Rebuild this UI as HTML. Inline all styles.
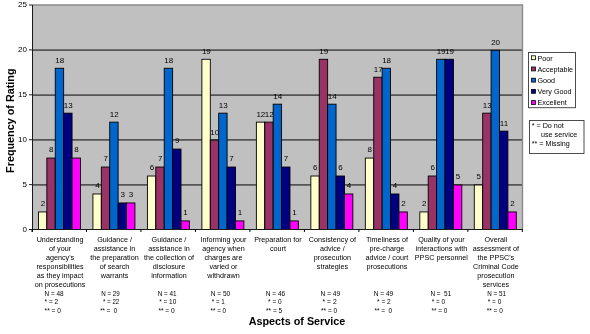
<!DOCTYPE html>
<html><head><meta charset="utf-8"><style>
html,body{margin:0;padding:0;background:#fff;width:590px;height:334px;overflow:hidden;position:relative}
text{font-family:"Liberation Sans",sans-serif;fill:#000}
.d{font-size:8px}
.c{font-size:7.2px}
.t{font-size:10.8px;font-weight:bold}
</style></head><body>
<svg width="590" height="334" viewBox="0 0 590 334" style="position:absolute;left:0;top:0;filter:blur(0.35px)">
<rect x="32" y="5.0" width="490.5" height="224.5" fill="#C0C0C0"/>
<line x1="32" y1="184.85" x2="522.5" y2="184.85" stroke="#555" stroke-width="1.7"/>
<line x1="32" y1="139.95" x2="522.5" y2="139.95" stroke="#555" stroke-width="1.7"/>
<line x1="32" y1="95.05" x2="522.5" y2="95.05" stroke="#555" stroke-width="1.7"/>
<line x1="32" y1="50.15" x2="522.5" y2="50.15" stroke="#555" stroke-width="1.7"/>
<polyline points="32,5.0 522.5,5.0 522.5,229.5" fill="none" stroke="#8a8a8a" stroke-width="1.4"/>
<rect x="38.45" y="211.94" width="8.40" height="17.56" fill="#FFFFCC" stroke="#000" stroke-width="0.9"/>
<text x="42.95" y="206.34" text-anchor="middle" class="d">2</text>
<rect x="46.85" y="158.06" width="8.40" height="71.44" fill="#993366" stroke="#000" stroke-width="0.9"/>
<text x="51.35" y="152.46" text-anchor="middle" class="d">8</text>
<rect x="55.25" y="68.26" width="8.40" height="161.24" fill="#0066CC" stroke="#000" stroke-width="0.9"/>
<text x="59.75" y="62.66" text-anchor="middle" class="d">18</text>
<rect x="63.65" y="113.16" width="8.40" height="116.34" fill="#000080" stroke="#000" stroke-width="0.9"/>
<text x="68.15" y="107.56" text-anchor="middle" class="d">13</text>
<rect x="72.05" y="158.06" width="8.40" height="71.44" fill="#FF00FF" stroke="#000" stroke-width="0.9"/>
<text x="76.55" y="152.46" text-anchor="middle" class="d">8</text>
<rect x="92.93" y="193.98" width="8.40" height="35.52" fill="#FFFFCC" stroke="#000" stroke-width="0.9"/>
<text x="97.43" y="188.38" text-anchor="middle" class="d">4</text>
<rect x="101.33" y="167.04" width="8.40" height="62.46" fill="#993366" stroke="#000" stroke-width="0.9"/>
<text x="105.83" y="161.44" text-anchor="middle" class="d">7</text>
<rect x="109.73" y="122.14" width="8.40" height="107.36" fill="#0066CC" stroke="#000" stroke-width="0.9"/>
<text x="114.23" y="116.54" text-anchor="middle" class="d">12</text>
<rect x="118.13" y="202.96" width="8.40" height="26.54" fill="#000080" stroke="#000" stroke-width="0.9"/>
<text x="122.63" y="197.36" text-anchor="middle" class="d">3</text>
<rect x="126.53" y="202.96" width="8.40" height="26.54" fill="#FF00FF" stroke="#000" stroke-width="0.9"/>
<text x="131.03" y="197.36" text-anchor="middle" class="d">3</text>
<rect x="147.41" y="176.02" width="8.40" height="53.48" fill="#FFFFCC" stroke="#000" stroke-width="0.9"/>
<text x="151.91" y="170.42" text-anchor="middle" class="d">6</text>
<rect x="155.81" y="167.04" width="8.40" height="62.46" fill="#993366" stroke="#000" stroke-width="0.9"/>
<text x="160.31" y="161.44" text-anchor="middle" class="d">7</text>
<rect x="164.21" y="68.26" width="8.40" height="161.24" fill="#0066CC" stroke="#000" stroke-width="0.9"/>
<text x="168.71" y="62.66" text-anchor="middle" class="d">18</text>
<rect x="172.61" y="149.08" width="8.40" height="80.42" fill="#000080" stroke="#000" stroke-width="0.9"/>
<text x="177.11" y="143.48" text-anchor="middle" class="d">9</text>
<rect x="181.01" y="220.92" width="8.40" height="8.58" fill="#FF00FF" stroke="#000" stroke-width="0.9"/>
<text x="185.51" y="215.32" text-anchor="middle" class="d">1</text>
<rect x="201.89" y="59.28" width="8.40" height="170.22" fill="#FFFFCC" stroke="#000" stroke-width="0.9"/>
<text x="206.39" y="53.68" text-anchor="middle" class="d">19</text>
<rect x="210.29" y="140.10" width="8.40" height="89.40" fill="#993366" stroke="#000" stroke-width="0.9"/>
<text x="214.79" y="134.50" text-anchor="middle" class="d">10</text>
<rect x="218.69" y="113.16" width="8.40" height="116.34" fill="#0066CC" stroke="#000" stroke-width="0.9"/>
<text x="223.19" y="107.56" text-anchor="middle" class="d">13</text>
<rect x="227.09" y="167.04" width="8.40" height="62.46" fill="#000080" stroke="#000" stroke-width="0.9"/>
<text x="231.59" y="161.44" text-anchor="middle" class="d">7</text>
<rect x="235.49" y="220.92" width="8.40" height="8.58" fill="#FF00FF" stroke="#000" stroke-width="0.9"/>
<text x="239.99" y="215.32" text-anchor="middle" class="d">1</text>
<rect x="256.37" y="122.14" width="8.40" height="107.36" fill="#FFFFCC" stroke="#000" stroke-width="0.9"/>
<text x="260.87" y="116.54" text-anchor="middle" class="d">12</text>
<rect x="264.77" y="122.14" width="8.40" height="107.36" fill="#993366" stroke="#000" stroke-width="0.9"/>
<text x="269.27" y="116.54" text-anchor="middle" class="d">12</text>
<rect x="273.17" y="104.18" width="8.40" height="125.32" fill="#0066CC" stroke="#000" stroke-width="0.9"/>
<text x="277.67" y="98.58" text-anchor="middle" class="d">14</text>
<rect x="281.57" y="167.04" width="8.40" height="62.46" fill="#000080" stroke="#000" stroke-width="0.9"/>
<text x="286.07" y="161.44" text-anchor="middle" class="d">7</text>
<rect x="289.97" y="220.92" width="8.40" height="8.58" fill="#FF00FF" stroke="#000" stroke-width="0.9"/>
<text x="294.47" y="215.32" text-anchor="middle" class="d">1</text>
<rect x="310.85" y="176.02" width="8.40" height="53.48" fill="#FFFFCC" stroke="#000" stroke-width="0.9"/>
<text x="315.35" y="170.42" text-anchor="middle" class="d">6</text>
<rect x="319.25" y="59.28" width="8.40" height="170.22" fill="#993366" stroke="#000" stroke-width="0.9"/>
<text x="323.75" y="53.68" text-anchor="middle" class="d">19</text>
<rect x="327.65" y="104.18" width="8.40" height="125.32" fill="#0066CC" stroke="#000" stroke-width="0.9"/>
<text x="332.15" y="98.58" text-anchor="middle" class="d">14</text>
<rect x="336.05" y="176.02" width="8.40" height="53.48" fill="#000080" stroke="#000" stroke-width="0.9"/>
<text x="340.55" y="170.42" text-anchor="middle" class="d">6</text>
<rect x="344.45" y="193.98" width="8.40" height="35.52" fill="#FF00FF" stroke="#000" stroke-width="0.9"/>
<text x="348.95" y="188.38" text-anchor="middle" class="d">4</text>
<rect x="365.33" y="158.06" width="8.40" height="71.44" fill="#FFFFCC" stroke="#000" stroke-width="0.9"/>
<text x="369.83" y="152.46" text-anchor="middle" class="d">8</text>
<rect x="373.73" y="77.24" width="8.40" height="152.26" fill="#993366" stroke="#000" stroke-width="0.9"/>
<text x="378.23" y="71.64" text-anchor="middle" class="d">17</text>
<rect x="382.13" y="68.26" width="8.40" height="161.24" fill="#0066CC" stroke="#000" stroke-width="0.9"/>
<text x="386.63" y="62.66" text-anchor="middle" class="d">18</text>
<rect x="390.53" y="193.98" width="8.40" height="35.52" fill="#000080" stroke="#000" stroke-width="0.9"/>
<text x="395.03" y="188.38" text-anchor="middle" class="d">4</text>
<rect x="398.93" y="211.94" width="8.40" height="17.56" fill="#FF00FF" stroke="#000" stroke-width="0.9"/>
<text x="403.43" y="206.34" text-anchor="middle" class="d">2</text>
<rect x="419.81" y="211.94" width="8.40" height="17.56" fill="#FFFFCC" stroke="#000" stroke-width="0.9"/>
<text x="424.31" y="206.34" text-anchor="middle" class="d">2</text>
<rect x="428.21" y="176.02" width="8.40" height="53.48" fill="#993366" stroke="#000" stroke-width="0.9"/>
<text x="432.71" y="170.42" text-anchor="middle" class="d">6</text>
<rect x="436.61" y="59.28" width="8.40" height="170.22" fill="#0066CC" stroke="#000" stroke-width="0.9"/>
<text x="441.11" y="53.68" text-anchor="middle" class="d">19</text>
<rect x="445.01" y="59.28" width="8.40" height="170.22" fill="#000080" stroke="#000" stroke-width="0.9"/>
<text x="449.51" y="53.68" text-anchor="middle" class="d">19</text>
<rect x="453.41" y="185.00" width="8.40" height="44.50" fill="#FF00FF" stroke="#000" stroke-width="0.9"/>
<text x="457.91" y="179.40" text-anchor="middle" class="d">5</text>
<rect x="474.29" y="185.00" width="8.40" height="44.50" fill="#FFFFCC" stroke="#000" stroke-width="0.9"/>
<text x="478.79" y="179.40" text-anchor="middle" class="d">5</text>
<rect x="482.69" y="113.16" width="8.40" height="116.34" fill="#993366" stroke="#000" stroke-width="0.9"/>
<text x="487.19" y="107.56" text-anchor="middle" class="d">13</text>
<rect x="491.09" y="50.30" width="8.40" height="179.20" fill="#0066CC" stroke="#000" stroke-width="0.9"/>
<text x="495.59" y="44.70" text-anchor="middle" class="d">20</text>
<rect x="499.49" y="131.12" width="8.40" height="98.38" fill="#000080" stroke="#000" stroke-width="0.9"/>
<text x="503.99" y="125.52" text-anchor="middle" class="d">11</text>
<rect x="507.89" y="211.94" width="8.40" height="17.56" fill="#FF00FF" stroke="#000" stroke-width="0.9"/>
<text x="512.39" y="206.34" text-anchor="middle" class="d">2</text>
<line x1="32.5" y1="5.0" x2="32.5" y2="232" stroke="#1a1a1a" stroke-width="1"/>
<line x1="29" y1="229.5" x2="522.5" y2="229.5" stroke="#1a1a1a" stroke-width="1"/>
<line x1="29" y1="229.50" x2="32" y2="229.50" stroke="#222" stroke-width="1"/>
<text x="27" y="231.80" text-anchor="end" class="d">0</text>
<line x1="29" y1="184.60" x2="32" y2="184.60" stroke="#222" stroke-width="1"/>
<text x="27" y="186.90" text-anchor="end" class="d">5</text>
<line x1="29" y1="139.70" x2="32" y2="139.70" stroke="#222" stroke-width="1"/>
<text x="27" y="142.00" text-anchor="end" class="d">10</text>
<line x1="29" y1="94.80" x2="32" y2="94.80" stroke="#222" stroke-width="1"/>
<text x="27" y="97.10" text-anchor="end" class="d">15</text>
<line x1="29" y1="49.90" x2="32" y2="49.90" stroke="#222" stroke-width="1"/>
<text x="27" y="52.20" text-anchor="end" class="d">20</text>
<line x1="29" y1="5.00" x2="32" y2="5.00" stroke="#222" stroke-width="1"/>
<text x="27" y="7.30" text-anchor="end" class="d">25</text>
<line x1="32.00" y1="229" x2="32.00" y2="232" stroke="#000" stroke-width="1"/>
<line x1="86.48" y1="229" x2="86.48" y2="232" stroke="#000" stroke-width="1"/>
<line x1="140.96" y1="229" x2="140.96" y2="232" stroke="#000" stroke-width="1"/>
<line x1="195.44" y1="229" x2="195.44" y2="232" stroke="#000" stroke-width="1"/>
<line x1="249.92" y1="229" x2="249.92" y2="232" stroke="#000" stroke-width="1"/>
<line x1="304.40" y1="229" x2="304.40" y2="232" stroke="#000" stroke-width="1"/>
<line x1="358.88" y1="229" x2="358.88" y2="232" stroke="#000" stroke-width="1"/>
<line x1="413.36" y1="229" x2="413.36" y2="232" stroke="#000" stroke-width="1"/>
<line x1="467.84" y1="229" x2="467.84" y2="232" stroke="#000" stroke-width="1"/>
<line x1="522.32" y1="229" x2="522.32" y2="232" stroke="#000" stroke-width="1"/>
<text x="60.04" y="241.60" text-anchor="middle" class="c">Understanding</text>
<text x="60.04" y="250.70" text-anchor="middle" class="c">of your</text>
<text x="60.04" y="259.80" text-anchor="middle" class="c">agency's</text>
<text x="60.04" y="268.90" text-anchor="middle" class="c">responsibilities</text>
<text x="60.04" y="278.00" text-anchor="middle" class="c">as they impact</text>
<text x="60.04" y="287.10" text-anchor="middle" class="c">on prosecutions</text>
<text x="44.60" y="295.80" class="c" textLength="19.00" lengthAdjust="spacingAndGlyphs" xml:space="preserve">N = 48</text>
<text x="44.60" y="304.20" class="c" textLength="13.60" lengthAdjust="spacingAndGlyphs" xml:space="preserve">* = 2</text>
<text x="44.60" y="312.60" class="c" textLength="16.30" lengthAdjust="spacingAndGlyphs" xml:space="preserve">** = 0</text>
<text x="114.52" y="241.60" text-anchor="middle" class="c">Guidance /</text>
<text x="114.52" y="250.70" text-anchor="middle" class="c">assistance in</text>
<text x="114.52" y="259.80" text-anchor="middle" class="c">the preparation</text>
<text x="114.52" y="268.90" text-anchor="middle" class="c">of search</text>
<text x="114.52" y="278.00" text-anchor="middle" class="c">warrants</text>
<text x="101.20" y="295.80" class="c" textLength="18.50" lengthAdjust="spacingAndGlyphs" xml:space="preserve">N = 29</text>
<text x="102.90" y="304.20" class="c" textLength="16.40" lengthAdjust="spacingAndGlyphs" xml:space="preserve">* = 22</text>
<text x="100.20" y="312.60" class="c" textLength="17.10" lengthAdjust="spacingAndGlyphs" xml:space="preserve">** =  0</text>
<text x="169.00" y="241.60" text-anchor="middle" class="c">Guidance /</text>
<text x="169.00" y="250.70" text-anchor="middle" class="c">assistance in</text>
<text x="169.00" y="259.80" text-anchor="middle" class="c">the collection of</text>
<text x="169.00" y="268.90" text-anchor="middle" class="c">disclosure</text>
<text x="169.00" y="278.00" text-anchor="middle" class="c">information</text>
<text x="157.70" y="295.80" class="c" textLength="18.90" lengthAdjust="spacingAndGlyphs" xml:space="preserve">N = 41</text>
<text x="159.20" y="304.20" class="c" textLength="17.10" lengthAdjust="spacingAndGlyphs" xml:space="preserve">* = 10</text>
<text x="158.40" y="312.60" class="c" textLength="16.30" lengthAdjust="spacingAndGlyphs" xml:space="preserve">** = 0</text>
<text x="223.48" y="241.60" text-anchor="middle" class="c">Informing your</text>
<text x="223.48" y="250.70" text-anchor="middle" class="c">agency when</text>
<text x="223.48" y="259.80" text-anchor="middle" class="c">charges are</text>
<text x="223.48" y="268.90" text-anchor="middle" class="c">varied or</text>
<text x="223.48" y="278.00" text-anchor="middle" class="c">withdrawn</text>
<text x="210.80" y="295.80" class="c" textLength="19.40" lengthAdjust="spacingAndGlyphs" xml:space="preserve">N = 50</text>
<text x="211.80" y="304.20" class="c" textLength="13.00" lengthAdjust="spacingAndGlyphs" xml:space="preserve">* = 1</text>
<text x="210.60" y="312.60" class="c" textLength="15.50" lengthAdjust="spacingAndGlyphs" xml:space="preserve">** = 0</text>
<text x="277.96" y="241.60" text-anchor="middle" class="c">Preparation for</text>
<text x="277.96" y="250.70" text-anchor="middle" class="c">court</text>
<text x="265.80" y="295.80" class="c" textLength="19.40" lengthAdjust="spacingAndGlyphs" xml:space="preserve">N = 46</text>
<text x="268.10" y="304.20" class="c" textLength="13.60" lengthAdjust="spacingAndGlyphs" xml:space="preserve">* = 0</text>
<text x="266.10" y="312.60" class="c" textLength="16.10" lengthAdjust="spacingAndGlyphs" xml:space="preserve">** = 5</text>
<text x="332.44" y="241.60" text-anchor="middle" class="c">Consistency of</text>
<text x="332.44" y="250.70" text-anchor="middle" class="c">advice /</text>
<text x="332.44" y="259.80" text-anchor="middle" class="c">prosecution</text>
<text x="332.44" y="268.90" text-anchor="middle" class="c">strategies</text>
<text x="320.60" y="295.80" class="c" textLength="19.60" lengthAdjust="spacingAndGlyphs" xml:space="preserve">N = 49</text>
<text x="322.60" y="304.20" class="c" textLength="14.10" lengthAdjust="spacingAndGlyphs" xml:space="preserve">* = 2</text>
<text x="321.10" y="312.60" class="c" textLength="16.10" lengthAdjust="spacingAndGlyphs" xml:space="preserve">** = 0</text>
<text x="386.92" y="241.60" text-anchor="middle" class="c">Timeliness of</text>
<text x="386.92" y="250.70" text-anchor="middle" class="c">pre-charge</text>
<text x="386.92" y="259.80" text-anchor="middle" class="c">advice / court</text>
<text x="386.92" y="268.90" text-anchor="middle" class="c">prosecutions</text>
<text x="373.80" y="295.80" class="c" textLength="19.40" lengthAdjust="spacingAndGlyphs" xml:space="preserve">N = 49</text>
<text x="377.10" y="304.20" class="c" textLength="13.50" lengthAdjust="spacingAndGlyphs" xml:space="preserve">* = 2</text>
<text x="374.40" y="312.60" class="c" textLength="17.80" lengthAdjust="spacingAndGlyphs" xml:space="preserve">** =  0</text>
<text x="441.40" y="241.60" text-anchor="middle" class="c">Quality of your</text>
<text x="441.40" y="250.70" text-anchor="middle" class="c">interactions with</text>
<text x="441.40" y="259.80" text-anchor="middle" class="c">PPSC personnel</text>
<text x="430.40" y="295.80" class="c" textLength="20.80" lengthAdjust="spacingAndGlyphs" xml:space="preserve">N =  51</text>
<text x="431.80" y="304.20" class="c" textLength="13.30" lengthAdjust="spacingAndGlyphs" xml:space="preserve">* = 0</text>
<text x="431.60" y="312.60" class="c" textLength="15.60" lengthAdjust="spacingAndGlyphs" xml:space="preserve">** = 0</text>
<text x="495.88" y="241.60" text-anchor="middle" class="c">Overall</text>
<text x="495.88" y="250.70" text-anchor="middle" class="c">assessment of</text>
<text x="495.88" y="259.80" text-anchor="middle" class="c">the PPSC's</text>
<text x="495.88" y="268.90" text-anchor="middle" class="c">Criminal Code</text>
<text x="495.88" y="278.00" text-anchor="middle" class="c">prosecution</text>
<text x="495.88" y="287.10" text-anchor="middle" class="c">services</text>
<text x="487.20" y="295.80" class="c" textLength="18.70" lengthAdjust="spacingAndGlyphs" xml:space="preserve">N = 51</text>
<text x="487.70" y="304.20" class="c" textLength="13.60" lengthAdjust="spacingAndGlyphs" xml:space="preserve">* = 0</text>
<text x="486.70" y="312.60" class="c" textLength="16.10" lengthAdjust="spacingAndGlyphs" xml:space="preserve">** = 0</text>
<text x="297" y="324.8" text-anchor="middle" class="t">Aspects of Service</text>
<text transform="translate(14.0,120.7) rotate(-90)" text-anchor="middle" class="t">Frequency of Rating</text>
<rect x="528.5" y="52.5" width="47" height="55.2" fill="#fff" stroke="#3a3a3a" stroke-width="0.9"/>
<rect x="531.6" y="55.80" width="3.9" height="3.9" fill="#FFFFCC" stroke="#000" stroke-width="0.8"/>
<text x="537.5" y="60.60" class="c">Poor</text>
<rect x="531.6" y="67.00" width="3.9" height="3.9" fill="#993366" stroke="#000" stroke-width="0.8"/>
<text x="537.5" y="71.80" class="c">Acceptable</text>
<rect x="531.6" y="78.20" width="3.9" height="3.9" fill="#0066CC" stroke="#000" stroke-width="0.8"/>
<text x="537.5" y="83.00" class="c">Good</text>
<rect x="531.6" y="89.40" width="3.9" height="3.9" fill="#000080" stroke="#000" stroke-width="0.8"/>
<text x="537.5" y="94.20" class="c">Very Good</text>
<rect x="531.6" y="100.60" width="3.9" height="3.9" fill="#FF00FF" stroke="#000" stroke-width="0.8"/>
<text x="537.5" y="105.40" class="c">Excellent</text>
<rect x="529.5" y="120.5" width="54.5" height="33" fill="#fff" stroke="#3a3a3a" stroke-width="0.9"/>
<text x="531.7" y="127.6" class="c">* = Do not</text>
<text x="541" y="136.6" class="c">use service</text>
<text x="531.7" y="145.6" class="c">** = Missing</text>
</svg>
</body></html>
